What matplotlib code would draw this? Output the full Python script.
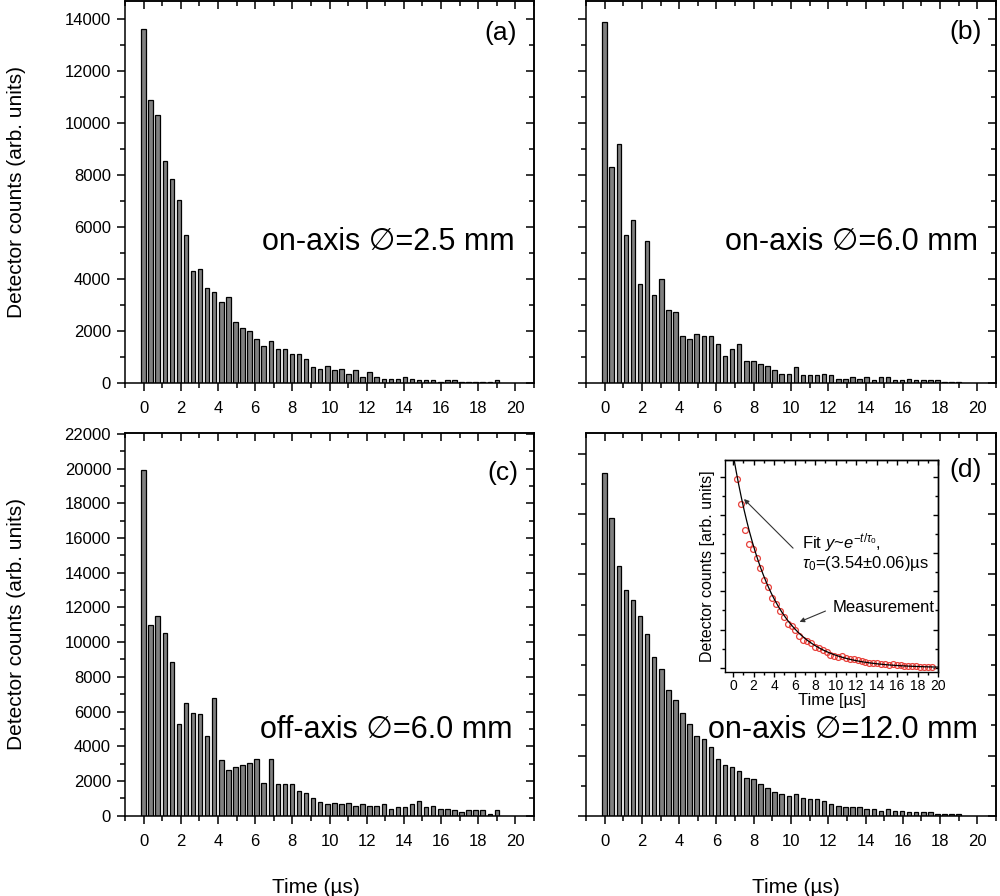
import matplotlib
matplotlib.use("Agg")
import matplotlib.pyplot as plt
import numpy as np
from matplotlib.ticker import MultipleLocator

plt.rcParams["font.family"] = ["Liberation Sans", "DejaVu Sans"]
plt.rcParams["mathtext.fontset"] = "custom"
plt.rcParams["mathtext.rm"] = "Liberation Sans"
plt.rcParams["mathtext.it"] = "Liberation Sans:italic"

# ---------------------------------------------------------------------------
# Data
# ---------------------------------------------------------------------------

BIN_WIDTH = 0.38  # µs
TIMES = np.arange(51) * BIN_WIDTH

COUNTS_A = [13630, 10880, 10300, 8550, 7850, 7040, 5720, 4330, 4400, 3650,
            3520, 3140, 3330, 2370, 2120, 2010, 1690, 1430, 1630, 1310,
            1310, 1130, 1130, 935, 630, 550, 680, 500, 550, 370,
            500, 245, 420, 245, 180, 180, 180, 245, 180, 115,
            115, 115, 50, 115, 115, 50, 50, 50, 50, 50, 115]

COUNTS_B = [13900, 8300, 9190, 5710, 6280, 3830, 5480, 3400, 4020, 2820,
            2760, 1830, 1690, 1890, 1820, 1820, 1500, 1060, 1310, 1500,
            870, 870, 740, 680, 500, 370, 370, 630, 310, 310,
            310, 370, 310, 180, 180, 245, 180, 245, 115, 245,
            245, 115, 115, 180, 115, 115, 115, 115, 50, 50, 50]

COUNTS_C = [19900, 11000, 11480, 10550, 8860, 5280, 6490, 5930, 5840, 4610,
            6780, 3200, 2640, 2830, 2930, 3020, 3290, 1900, 3290, 1800,
            1800, 1800, 1420, 1320, 1030, 800, 650, 760, 680, 760,
            570, 660, 580, 580, 660, 390, 480, 480, 670, 860,
            480, 570, 390, 390, 300, 200, 300, 300, 300, 110, 300]

COUNTS_D = [11370, 9850, 8280, 7475, 7145, 6615, 6020, 5260, 4873, 4179,
            3848, 3418, 3032, 2657, 2540, 2290, 1900, 1700, 1630, 1500,
            1270, 1210, 1050, 940, 780, 730, 670, 720, 610, 560,
            560, 500, 400, 330, 290, 290, 290, 230, 230, 180,
            230, 180, 180, 120, 120, 120, 120, 70, 70, 70, 70]

FIT_AMP = 12830
FIT_TAU = 3.54

PANEL_TAGS = ["(a)", "(b)", "(c)", "(d)"]
PANEL_NOTES = ["on-axis \u2205=2.5 mm", "on-axis \u2205=6.0 mm",
               "off-axis \u2205=6.0 mm", "on-axis \u2205=12.0 mm"]

W, H = 1000, 896
fig = plt.figure(figsize=(W / 100, H / 100), dpi=100)


def px_axes(left, top, right, bottom):
    return fig.add_axes([left / W, 1 - bottom / H, (right - left) / W, (bottom - top) / H])


def style_axes(ax, xlim, ylim, xmaj, xmin, ymaj, ymin, show_ylabels, size=12,
               lmaj=6, lmin=3.5, lw=1.1):
    """Origin-like frame: outward ticks bottom/left, mirrored inward ticks top/right."""
    ax.set_xlim(*xlim)
    ax.set_ylim(*ylim)
    ax.xaxis.set_major_locator(MultipleLocator(xmaj))
    ax.xaxis.set_minor_locator(MultipleLocator(xmin))
    ax.yaxis.set_major_locator(MultipleLocator(ymaj))
    ax.yaxis.set_minor_locator(MultipleLocator(ymin))
    ax.tick_params(which="both", direction="out", width=lw, labelsize=size,
                   top=False, right=False, labelleft=show_ylabels)
    ax.tick_params(which="major", length=lmaj)
    ax.tick_params(which="minor", length=lmin)
    for s in ax.spines.values():
        s.set_linewidth(lw)

    top = ax.secondary_xaxis("top")
    top.xaxis.set_major_locator(MultipleLocator(xmaj))
    top.xaxis.set_minor_locator(MultipleLocator(xmin))
    top.tick_params(which="both", direction="in", width=lw, labeltop=False)
    top.tick_params(which="major", length=lmaj)
    top.tick_params(which="minor", length=lmin)
    top.spines["top"].set_linewidth(lw)

    right = ax.secondary_yaxis("right")
    right.yaxis.set_major_locator(MultipleLocator(ymaj))
    right.yaxis.set_minor_locator(MultipleLocator(ymin))
    right.tick_params(which="both", direction="in", width=lw, labelright=False)
    right.tick_params(which="major", length=lmaj)
    right.tick_params(which="minor", length=lmin)
    right.spines["right"].set_linewidth(lw)


ax_a = px_axes(125, 1, 534, 383.3)
ax_b = px_axes(586, 1, 996, 383.3)
ax_c = px_axes(125, 433, 534, 815.7)
ax_d = px_axes(586, 433, 996, 816)

panels = [
    (ax_a, COUNTS_A, (0, 14700), True),
    (ax_b, COUNTS_B, (0, 14700), False),
    (ax_c, COUNTS_C, (0, 22050), True),
    (ax_d, COUNTS_D, (0, 12680), False),
]

note_pos = [(0.335, 0.370), (0.339, 0.370), (0.330, 0.224), (0.298, 0.224)]
tag_pos = [(0.878, 0.916), (0.886, 0.918), (0.886, 0.895), (0.886, 0.903)]

for i, (ax, counts, ylim, show_y) in enumerate(panels):
    ax.bar(TIMES, counts, width=0.24, color="#808080", edgecolor="black",
           linewidth=0.9, align="center")
    style_axes(ax, (-1, 21), ylim, 2, 1, 2000, 1000, show_y)
    ax.set_xticks(np.arange(0, 21, 2))
    ax.tick_params(axis="x", pad=7)
    ax.tick_params(axis="y", pad=4)
    ax.text(*note_pos[i], PANEL_NOTES[i], transform=ax.transAxes, fontsize=22,
            ha="left", va="center")
    ax.text(*tag_pos[i], PANEL_TAGS[i], transform=ax.transAxes, fontsize=19,
            ha="left", va="center")

for ax in (ax_a, ax_c):
    ax.set_ylabel("Detector counts (arb. units)", fontsize=15)
    ax.yaxis.set_label_coords(-0.243, 0.5)

ax_c.set_xlabel("Time (\u00b5s)", fontsize=15)
ax_c.xaxis.set_label_coords(0.467, -0.162)
ax_d.set_xlabel("Time (\u00b5s)", fontsize=15)
ax_d.xaxis.set_label_coords(0.512, -0.162)

# ---------------------------------------------------------------------------
# Inset in panel (d): measurement with exponential fit
# ---------------------------------------------------------------------------

ax_in = px_axes(725, 460, 938, 672)
fit_t = np.linspace(0, 20, 300)
ax_in.plot(fit_t, FIT_AMP * np.exp(-fit_t / FIT_TAU), color="black", lw=0.9, zorder=3)
ax_in.plot(TIMES + BIN_WIDTH, COUNTS_D, linestyle="none", marker="o", ms=4.2,
           mfc="none", mec="#e8403a", mew=0.9, zorder=2)
style_axes(ax_in, (-0.8, 20), (-250, 12500), 2, 1, 2300, 1150, False,
           size=10, lmaj=3.5, lmin=2, lw=1.0)
ax_in.set_xticks(np.arange(0, 21, 2))
ax_in.tick_params(axis="x", pad=1.5)
ax_in.set_xlabel("Time [\u00b5s]", fontsize=12, labelpad=0)
ax_in.set_ylabel("Detector counts [arb. units]", fontsize=11.5, labelpad=4)

ax_in.annotate("", xy=(0.86, 10270), xytext=(6.04, 7080),
               arrowprops=dict(arrowstyle="-|>", color="#333333", lw=0.8,
                               mutation_scale=7))
ax_in.text(6.72, 7560, "Fit $y$~$e^{-t/\\tau_0}$,", fontsize=12,
           ha="left", va="center")
ax_in.text(6.72, 6300, "$\\tau_0$=(3.54\u00b10.06)\u00b5s", fontsize=12,
           ha="left", va="center")
ax_in.annotate("", xy=(6.23, 2700), xytext=(9.26, 3480),
               arrowprops=dict(arrowstyle="-|>", color="#333333", lw=0.8,
                               mutation_scale=7))
ax_in.text(9.75, 3600, "Measurement", fontsize=12, ha="left", va="center")

fig.savefig("out.png", dpi=100)
